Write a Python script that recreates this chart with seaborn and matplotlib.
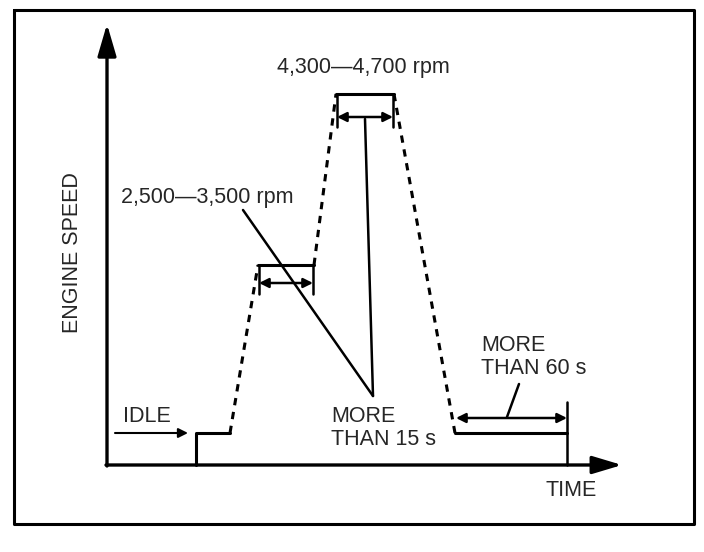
import matplotlib
matplotlib.use("Agg")
import matplotlib.pyplot as plt
import seaborn as sns
import pandas as pd

sns.set_style("white")
plt.rcParams['font.family'] = ['Liberation Sans', 'DejaVu Sans']

# Diagram geometry (picture units, y grows downward)
# Engine speed profile: time positions and speed levels
solid_x = [[196, 196, 230], [258, 314], [336, 394], [455, 567]]
solid_y = [[465, 433, 433], [265, 265], [94, 94], [433, 433]]
dashed_x = [[230, 258], [314, 336], [394, 455]]
dashed_y = [[433, 265], [265, 94], [94, 433]]
# end-of-test marker and dimension ticks
tick_x = [[567, 567], [259, 259], [313, 313], [337, 337], [393, 393]]
tick_y = [[402, 465], [265, 294], [265, 294], [94, 127], [94, 127]]
# dimension arrows (x0, x1, y)
dim_x0 = [259, 337, 456]
dim_x1 = [313, 393, 567]
dim_y = [283, 117, 418]
# leader lines
lead_x = [[243, 373], [365, 373], [519, 507]]
lead_y = [[210, 396], [119, 396], [384, 417]]

labels = ["4,300\u20144,700 rpm", "2,500\u20143,500 rpm", "MORE\nTHAN 15 s",
          "MORE\nTHAN 60 s", "IDLE", "TIME", "ENGINE SPEED"]
label_x = [363, 121, 331, 481, 123, 545, 72]
label_y = [68, 198, 428, 357, 416, 490, 253]

fig = plt.figure(figsize=(7.04, 5.52), dpi=100)
ax = fig.add_axes([0, 0, 1, 1])
ax.set_xlim(0, 704)
ax.set_ylim(552, 0)
ax.axis("off")

lw = 2.2
# frame
ax.plot([14, 694, 694, 14, 14], [10, 10, 524, 524, 10], color="black", lw=2.2)

# axes with arrows
ax.annotate("", xy=(107, 24), xytext=(107, 466),
            arrowprops=dict(arrowstyle="-|>,head_length=0.65,head_width=0.19",
                            color="black", lw=2.4,
                            mutation_scale=30, shrinkA=0, shrinkB=0))
ax.annotate("", xy=(622, 465), xytext=(106, 465),
            arrowprops=dict(arrowstyle="-|>,head_length=0.6,head_width=0.18",
                            color="black", lw=2.4,
                            mutation_scale=30, shrinkA=0, shrinkB=0))

for xs, ys in zip(solid_x, solid_y):
    sns.lineplot(x=xs, y=ys, sort=False, color="black", lw=lw, ax=ax,
                 estimator=None)
for xs, ys in zip(dashed_x, dashed_y):
    sns.lineplot(x=xs, y=ys, sort=False, color="black", lw=lw, ax=ax,
                 estimator=None, dashes=False, linestyle=(0, (2.4, 2.2)))
for xs, ys in zip(tick_x, tick_y):
    sns.lineplot(x=xs, y=ys, sort=False, color="black", lw=1.8, ax=ax,
                 estimator=None)
for xs, ys in zip(lead_x, lead_y):
    sns.lineplot(x=xs, y=ys, sort=False, color="black", lw=1.8, ax=ax,
                 estimator=None)
for x0, x1, y in zip(dim_x0, dim_x1, dim_y):
    ax.annotate("", xy=(x1, y), xytext=(x0, y),
                arrowprops=dict(arrowstyle="<|-|>", color="black", lw=1.8,
                                mutation_scale=14, shrinkA=0, shrinkB=0))

# idle arrow
ax.annotate("", xy=(188, 433), xytext=(115, 433),
            arrowprops=dict(arrowstyle="-|>", color="black", lw=1.5,
                            mutation_scale=14, shrinkA=0, shrinkB=0))

fs = 15.5
ax.text(label_x[0], label_y[0], labels[0], fontsize=fs, ha="center", va="center")
ax.text(label_x[1], label_y[1], labels[1], fontsize=fs, ha="left", va="center")
ax.text(label_x[2], label_y[2], labels[2], fontsize=fs, ha="left", va="center",
        linespacing=1.15)
ax.text(label_x[3], label_y[3], labels[3], fontsize=fs, ha="left", va="center",
        linespacing=1.15)
ax.text(label_x[4], label_y[4], labels[4], fontsize=fs, ha="left", va="center")
ax.text(label_x[5], label_y[5], labels[5], fontsize=fs, ha="left", va="center")
ax.text(label_x[6], label_y[6], labels[6], fontsize=fs, ha="center", va="center",
        rotation=90)

fig.savefig("out.png", dpi=100)
